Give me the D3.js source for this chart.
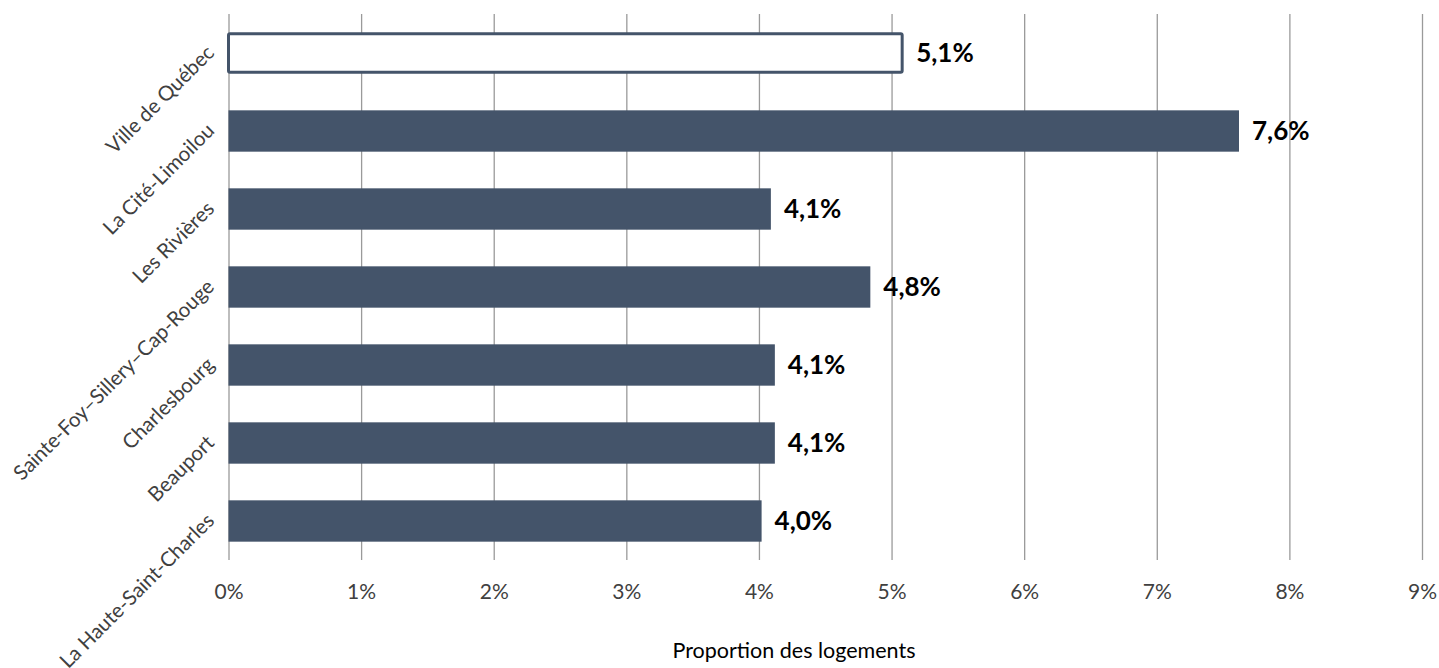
<!DOCTYPE html>
<html>
<head>
<meta charset="utf-8">
<script src="https://cdn.jsdelivr.net/npm/d3@7"></script>
<style>
  html, body { margin: 0; padding: 0; background: #fff; }
  svg { display: block; }
  text { font-family: Lato, "Open Sans", sans-serif; }
</style>
</head>
<body>
<svg id="chart" width="1439" height="668"></svg>
<script>
const categories = ["Ville de Québec", "La Cité-Limoilou", "Les Rivières", "Sainte-Foy–Sillery–Cap-Rouge", "Charlesbourg", "Beauport", "La Haute-Saint-Charles"];
const values = [5.08, 7.62, 4.09, 4.84, 4.12, 4.12, 4.02];
const valueLabels = ["5,1%", "7,6%", "4,1%", "4,8%", "4,1%", "4,1%", "4,0%"];
const outlined = [true, false, false, false, false, false, false];
const xTicks = [0, 1, 2, 3, 4, 5, 6, 7, 8, 9];
const xTitle = "Proportion des logements";

const svg = d3.select("#chart");
const color = "#44546A";

const x = d3.scaleLinear().domain([0, 9]).range([228.5, 1422]);
const y = d3.scaleBand().domain(categories).range([14, 560]).paddingInner(0.47).paddingOuter(0.235);

// gridlines
const xAxis = d3.axisBottom(x).tickValues(xTicks).tickSize(546).tickFormat(d => d + "%");
const gx = svg.append("g").attr("transform", "translate(0,14)").call(xAxis);
gx.select(".domain").remove();
gx.selectAll(".tick line").attr("stroke", "#9a9a9a").attr("stroke-width", 1.3);
gx.selectAll(".tick text").attr("y", 578).attr("dy", "0.35em")
  .attr("fill", "#404040").style("font-size", "21px").style("font-family", "Lato, sans-serif");

// bars
const data = categories.map((c, i) => ({c, v: values[i], lab: valueLabels[i], o: outlined[i]}));
svg.append("g").selectAll("rect").data(data).join("rect")
  .attr("x", x(0))
  .attr("y", d => y(d.c) + (d.o ? 1.5 : 0))
  .attr("width", d => x(d.v) - x(0))
  .attr("height", d => y.bandwidth() - (d.o ? 3 : 0))
  .attr("fill", d => d.o ? "#ffffff" : color)
  .attr("stroke", d => d.o ? color : "none")
  .attr("stroke-width", d => d.o ? 3 : 0)
  .attr("rx", d => d.o ? 1.5 : 0);

// value labels
svg.append("g").selectAll("text").data(data).join("text")
  .attr("x", d => x(d.v) + (d.o ? 14 : 13))
  .attr("y", d => y(d.c) + y.bandwidth() / 2)
  .attr("dy", "0.36em")
  .attr("fill", "#000")
  .style("font-size", "26px").style("font-weight", "700")
  .text(d => d.lab);

// category labels
svg.append("g").selectAll("text").data(categories).join("text")
  .attr("transform", c => `translate(${x(0) - 13},${y(c) + y.bandwidth() / 2 + 1}) rotate(-45)`)
  .attr("text-anchor", "end")
  .attr("fill", "#404040")
  .style("font-size", "20.5px")
  .text(c => c);

// axis title
svg.append("text")
  .attr("x", 794).attr("y", 650).attr("dy", "0.35em")
  .attr("text-anchor", "middle")
  .attr("fill", "#000")
  .style("font-size", "21.5px")
  .text(xTitle);
</script>
</body>
</html>
